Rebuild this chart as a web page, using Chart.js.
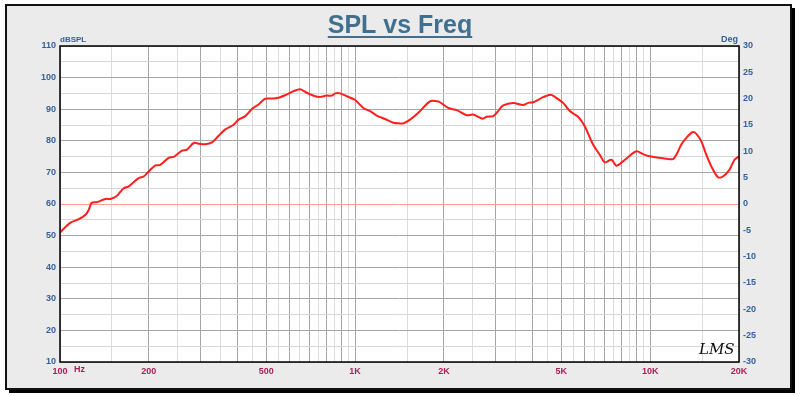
<!DOCTYPE html>
<html>
<head>
<meta charset="utf-8">
<script src="https://cdn.jsdelivr.net/npm/chart.js@4/dist/chart.umd.min.js"></script>
<style>
  html, body { margin: 0; padding: 0; background: #fff; }
  canvas { display: block; }
</style>
</head>
<body>
<canvas id="grafico" width="800" height="396"></canvas>
<script>
// valores (Hz / dBSPL)
const freqs = [100, 108.5, 115.8, 122, 125.2, 127.8, 133.6, 142.6, 148.2, 156, 164.4, 171, 184.8, 192.1, 199.8,
  210.5, 218.8, 233.4, 242.7, 259.2, 269.4, 283.7, 294.9, 310.7, 327.4, 344.7, 363.2, 387.5, 402.9, 424.5,
  447.1, 470.9, 496.1, 529.1, 557.6, 587.3, 618.4, 651.5, 686.4, 732.1, 761.3, 802, 834, 855.6, 889.5,
  937.4, 1000, 1067, 1124, 1184, 1263, 1348, 1420, 1457, 1535, 1638, 1794, 1890, 1939, 2069, 2210, 2388,
  2514, 2705, 2791, 2938, 3054, 3176, 3434, 3711, 3859, 4012, 4337, 4597, 4752, 5069, 5341, 5697, 6001,
  6404, 6748, 7015, 7391, 7685, 8089, 8411, 8982, 9454, 9961, 10768, 11344, 11948, 12268, 12755, 13262,
  13896, 14335, 14904, 15500, 16116, 16965, 17638, 18577, 19316, 20000];
const spl = [51, 54.1, 55.2, 56.6, 58.2, 60.3, 60.6, 61.6, 61.6, 62.6, 65, 65.6, 68.2, 68.7, 70.3,
  72.2, 72.4, 74.6, 74.9, 76.9, 77.2, 79.3, 79.1, 78.9, 79.5, 81.6, 83.6, 85.1, 86.7, 87.8,
  90.1, 91.5, 93.3, 93.4, 93.8, 94.7, 95.7, 96.3, 95.2, 94.1, 93.9, 94.3, 94.3, 95, 95,
  94.1, 92.9, 90.4, 89.4, 88, 86.9, 85.7, 85.5, 85.5, 86.7, 88.9, 92.5, 92.5, 92.2, 90.4, 89.7, 88.1,
  88.3, 87, 87.6, 87.8, 89.4, 91.2, 92, 91.3, 92, 92.2, 93.8, 94.6, 93.9, 92, 89.4, 87.6, 84.6,
  78.8, 75.6, 73.2, 74, 72.1, 73.5, 74.8, 76.7, 75.8, 75.1, 74.6, 74.3, 74.2, 75.6, 78.8, 80.9,
  82.7, 82.2, 79.8, 75.6, 71.9, 68.5, 68.7, 70.9, 74, 75.1];

// lineas verticales de la rejilla
const gridFreqs = [100, 150, 200, 250, 300, 350, 400, 450, 500, 550, 600, 650, 700, 750, 800, 850, 900, 950,
  1000, 1500, 2000, 2500, 3000, 3500, 4000, 4500, 5000, 5500, 6000, 6500, 7000, 7500, 8000, 8500, 9000, 9500,
  10000, 15000, 20000];
const freqLabels = { 100: '100', 200: '200', 500: '500', 1000: '1K', 2000: '2K', 5000: '5K', 10000: '10K', 20000: '20K' };
const splRange = [10, 110];
const degRange = [-30, 30];

const azul = '#35609a';
const granate = '#a81f58';

const esOscura = (v) => v < 1000 ? v % 100 === 0 : v < 10000 ? v % 1000 === 0 : v % 10000 === 0;

const marco = {
  id: 'marco',
  beforeDraw(chart) {
    const { ctx, chartArea: a } = chart;
    ctx.save();
    ctx.fillStyle = '#fff';
    ctx.fillRect(0, 0, 800, 396);
    ctx.fillStyle = '#000';
    ctx.fillRect(9, 8, 786, 385);
    ctx.fillStyle = '#ebebeb';
    ctx.fillRect(6, 5, 785, 384);
    ctx.strokeStyle = '#111';
    ctx.lineWidth = 2;
    ctx.strokeRect(6, 5, 785, 384);
    ctx.fillStyle = '#fff';
    ctx.fillRect(a.left, a.top, a.right - a.left, a.bottom - a.top);
    ctx.restore();
  },
  afterDraw(chart) {
    const { ctx, chartArea: a } = chart;
    ctx.save();
    ctx.strokeStyle = '#000';
    ctx.lineWidth = 1.5;
    ctx.strokeRect(a.left, a.top, a.right - a.left, a.bottom - a.top);

    // titulo subrayado
    ctx.font = 'bold 25px "Liberation Sans", Arial, sans-serif';
    ctx.fillStyle = '#41708f';
    ctx.textAlign = 'center';
    ctx.textBaseline = 'alphabetic';
    ctx.fillText('SPL vs Freq', 400, 33);
    const w = ctx.measureText('SPL vs Freq').width;
    ctx.fillRect(400 - w / 2, 36, w, 2);

    ctx.font = 'bold 8px "Liberation Sans", Arial, sans-serif';
    ctx.fillStyle = azul;
    ctx.textAlign = 'left';
    ctx.fillText('dBSPL', a.left, 42);
    ctx.textAlign = 'right';
    ctx.font = 'bold 9px "Liberation Sans", Arial, sans-serif';
    ctx.fillText('Deg', a.right - 1, 42);

    ctx.fillStyle = granate;
    ctx.textAlign = 'left';
    ctx.textBaseline = 'middle';
    ctx.fillText('Hz', a.left + 14, a.bottom + 8);

    ctx.fillStyle = '#111';
    ctx.font = 'italic 15px "DejaVu Serif", serif';
    ctx.textAlign = 'left';
    ctx.fillText('LMS', 699, 350);
    ctx.restore();
  }
};

new Chart(document.getElementById('grafico'), {
  type: 'line',
  data: {
    datasets: [{
      data: freqs.map((f, i) => ({ x: f, y: spl[i] })),
      borderColor: '#ff1e1e',
      borderWidth: 2,
      pointRadius: 0,
      tension: 0.3,
      yAxisID: 'y'
    }]
  },
  options: {
    responsive: false,
    animation: false,
    devicePixelRatio: 1,
    layout: { padding: { top: 46, left: 0, right: 0, bottom: 0 } },
    plugins: { legend: { display: false }, tooltip: { enabled: false } },
    scales: {
      x: {
        type: 'logarithmic',
        min: 100,
        max: 20000,
        afterBuildTicks: (s) => { s.ticks = gridFreqs.map(v => ({ value: v })); },
        afterFit: (s) => { s.height = 34; },
        border: { display: false },
        grid: {
          drawTicks: false,
          color: (c) => esOscura(c.tick.value) ? '#a6a6a6' : '#dcdcdc',
          lineWidth: 1
        },
        ticks: {
          autoSkip: false,
          maxRotation: 0,
          padding: 4,
          color: granate,
          font: { family: '"Liberation Sans", Arial, sans-serif', size: 9, weight: 'bold' },
          callback: (v) => freqLabels[v] || ''
        }
      },
      y: {
        position: 'left',
        min: splRange[0],
        max: splRange[1],
        afterFit: (s) => { s.width = 60; },
        border: { display: false },
        grid: {
          drawTicks: false,
          color: (c) => c.tick.value === 60 ? '#ff9c9c' : (c.tick.value % 10 === 0 ? '#a6a6a6' : '#d6d6d6')
        },
        ticks: {
          stepSize: 5,
          padding: 4,
          color: azul,
          font: { family: '"Liberation Sans", Arial, sans-serif', size: 9, weight: 'bold' },
          callback: (v) => v % 10 === 0 ? v : ''
        }
      },
      y2: {
        position: 'right',
        min: degRange[0],
        max: degRange[1],
        afterFit: (s) => { s.width = 61; },
        border: { display: false },
        grid: { display: false, drawTicks: false },
        ticks: {
          stepSize: 5,
          padding: 4,
          color: azul,
          font: { family: '"Liberation Sans", Arial, sans-serif', size: 9, weight: 'bold' }
        }
      }
    }
  },
  plugins: [marco]
});
</script>
</body>
</html>
